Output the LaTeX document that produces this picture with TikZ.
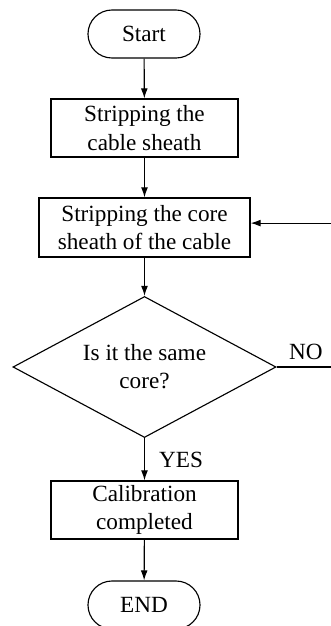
\documentclass[tikz,border=0pt]{standalone}
\usepackage{fontspec}
\setmainfont{Liberation Serif}
\usetikzlibrary{shapes.geometric, arrows.meta}

\begin{document}
\begin{tikzpicture}[x = 0.025cm, y = -0.025cm, line width = 0.8pt,
  every node/.style = {font = \fontsize{16.5}{20}\selectfont, align = center},
  term/.style = {draw, rectangle, rounded corners = 0.6cm, minimum width = 2.8cm, minimum height = 1.2cm},
  proc/.style = {draw, rectangle, minimum width = 4.675cm, minimum height = 1.45cm, inner sep = 0pt},
  ask/.style = {draw, diamond, aspect = 1.87, minimum width = 6.575cm, minimum height = 3.525cm, inner sep = 0pt},
  arr/.style = {-{Latex[length = 0.25cm, width = 0.17cm]}}]

\useasboundingbox (0, 0) rectangle (330, 626);

\draw (144, 34) node[term] (start) {Start};

\draw (144.5, 128) node[proc] (strip1) {Stripping the\\cable sheath};

\draw (144.5, 227.5) node[proc, minimum width = 5.275cm, minimum height = 1.475cm] (strip2) {Stripping the core\\sheath of the cable};

\draw (144.5, 367) node[ask] (check) {Is it the same\\core?};

\draw (144.5, 510) node[proc] (calib) {Calibration\\completed};

\draw (144, 605) node[term] (stop) {END};

\draw (306, 352) node (no) {NO};

\draw (181, 460) node (yes) {YES};

\draw (350, 367) coordinate (back);

\draw[arr] (start) -- (strip1);
\draw[arr] (strip1) -- (strip2);
\draw[arr] (strip2) -- (check);
\draw[arr] (check) -- (calib);
\draw[arr] (calib) -- (stop);
\draw[arr] (check.east) -- (back) |- ([yshift = 0.11cm]strip2.east);
\end{tikzpicture}
\end{document}
